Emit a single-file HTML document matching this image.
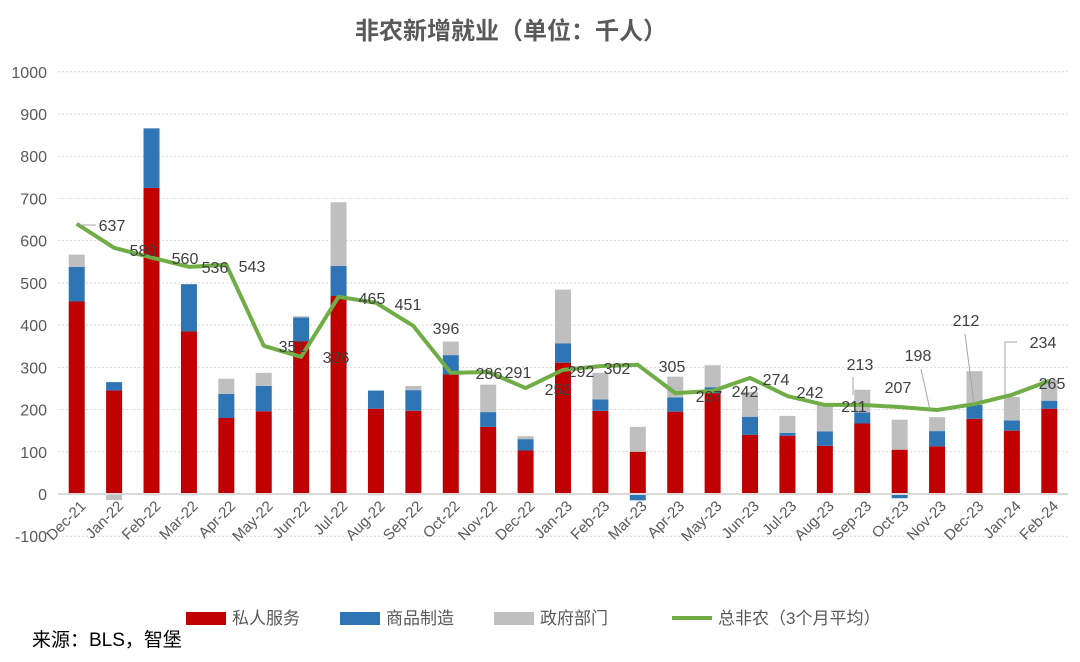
<!DOCTYPE html>
<html><head><meta charset="utf-8">
<style>
body{margin:0;background:#fff;}
svg{display:block;font-family:"Liberation Sans","Noto Sans CJK SC",sans-serif;}
</style></head>
<body>
<svg id="chart" width="1080" height="662" viewBox="0 0 1080 662" xmlns="http://www.w3.org/2000/svg">
<rect width="1080" height="662" fill="#fff"/>
<text x="511" y="39" text-anchor="middle" font-size="24" font-weight="bold" fill="#595959">非农新增就业（单位：千人）</text>
<g id="grid"></g><g id="bars"></g><g id="line"></g><g id="labels"></g><g id="axes"></g>
<g>
<rect x="186" y="612" width="40" height="13" fill="#c00000"/>
<text x="232" y="624" font-size="17" fill="#595959">私人服务</text>
<rect x="340" y="612" width="40" height="13" fill="#2e75b6"/>
<text x="386" y="624" font-size="17" fill="#595959">商品制造</text>
<rect x="494" y="612" width="40" height="13" fill="#bfbfbf"/>
<text x="540" y="624" font-size="17" fill="#595959">政府部门</text>
<line x1="672" y1="618" x2="712" y2="618" stroke="#70ad47" stroke-width="4"/>
<text x="718" y="624" font-size="17" fill="#595959">总非农（3个月平均）</text>
</g>
<text x="32" y="646" font-size="19" fill="#000">来源：BLS，智堡</text>
</svg>
<script>
const categories=["Dec-21","Jan-22","Feb-22","Mar-22","Apr-22","May-22","Jun-22","Jul-22","Aug-22","Sep-22","Oct-22","Nov-22","Dec-22","Jan-23","Feb-23","Mar-23","Apr-23","May-23","Jun-23","Jul-23","Aug-23","Sep-23","Oct-23","Nov-23","Dec-23","Jan-24","Feb-24"];
const privateServices=[456,245,725,385,180,196,362,469,202,197,283,159,103,311,197,100,195,239,140,138,114,167,105,113,178,150,202];
const goodsProducing=[82,20,141,112,57,60,56,71,43,49,46,35,27,46,27,-15,34,14,43,7,34,26,-10,36,33,24,19];
const government=[29,-14,-3,-3,36,31,3,151,-3,10,32,65,7,127,63,59,49,52,59,40,63,54,71,33,80,56,49];
const total3mAvg=[640,583,560,538,543,351,325,467,453,398,287,289,251,294,303,306,239,244,275,232,211,211,206,199,213,235,268];
const labelValues=["637","580","560","536","543","351","326","465","451","396","286","291","252","292","302","305","237","242","274","242","211","213","207","198","212","234","265"];
const yTicks=[-100,0,100,200,300,400,500,600,700,800,900,1000];
// label layout (pixels), separate from data
const labelPos=[[112,231],[143,256],[185,264],[215,273],[252,272],[292,352],[336,363],[372,304],[408,310],[446,334],[489,379],[518,378],[558,395],[581,377],[617,374],[672,372],[709,402],[745,397],[776,385],[810,398],[854,412],[860,370],[898,393],[918,361],[966,326],[1043,348],[1052,389]];
const leaders={0:[[80,225],[96,225]],21:[[853,377],[853,395]],23:[[921,369],[930,410]],24:[[965,334],[974,404]],25:[[1017,342],[1005,342],[1005,395]]};

const NS="http://www.w3.org/2000/svg";
const left=58,right=1068,y0px=494,pxPer=0.4222;
const n=categories.length,step=(right-left)/n,bw=16;
const X=i=>left+step*(i+0.5);
const Y=v=>y0px-v*pxPer;
function mk(tag,attrs,parent){const e=document.createElementNS(NS,tag);for(const k in attrs)e.setAttribute(k,attrs[k]);parent.appendChild(e);return e;}
const G=id=>document.getElementById(id);

yTicks.forEach(t=>{
  if(t!==0){const l=mk("line",{x1:left,x2:right,y1:Y(t),y2:Y(t),stroke:"#d9d9d9","stroke-width":1,"stroke-dasharray":"2,2"},G("grid"));
  
  }
  const tx=mk("text",{x:47,y:Y(t)+6,"text-anchor":"end","font-size":16,fill:"#595959"},G("axes"));
  tx.textContent=t;
  
  
});

categories.forEach((c,i)=>{
  let pos=0,neg=0;
  [[privateServices[i],"#c00000","bar-private"],[goodsProducing[i],"#2e75b6","bar-goods"],[government[i],"#bfbfbf","bar-government"]].forEach(([v,col,nm])=>{
    let y1,y2;
    if(v>=0){y1=pos;y2=pos+v;pos+=v;}else{y1=neg+v;y2=neg;neg+=v;}
    const r=mk("rect",{x:X(i)-bw/2,y:Y(y2),width:bw,height:Math.max(0,Y(y1)-Y(y2)),fill:col},G("bars"));
    
    
  });
  const t=mk("text",{x:0,y:0,"text-anchor":"end","font-size":15,fill:"#595959",transform:`translate(${X(i)+10},${507}) rotate(-45)`},G("axes"));
  t.textContent=c;
  
  
});
const ax=mk("line",{x1:left,x2:right,y1:Y(0),y2:Y(0),stroke:"#d9d9d9","stroke-width":2},G("axes"));



const pl=mk("polyline",{points:total3mAvg.map((v,i)=>X(i)+","+Y(v)).join(" "),fill:"none",stroke:"#70ad47","stroke-width":4,"stroke-linejoin":"round"},G("line"));



for(const k in leaders){
  const ld=mk("polyline",{points:leaders[k].map(p=>p.join(",")).join(" "),fill:"none",stroke:"#a6a6a6","stroke-width":1},G("labels"));
  
  
}
labelValues.forEach((s,i)=>{
  const t=mk("text",{x:labelPos[i][0],y:labelPos[i][1],"text-anchor":"middle","font-size":16,fill:"#404040"},G("labels"));
  t.textContent=s;
  
  
});
</script>
</body></html>
